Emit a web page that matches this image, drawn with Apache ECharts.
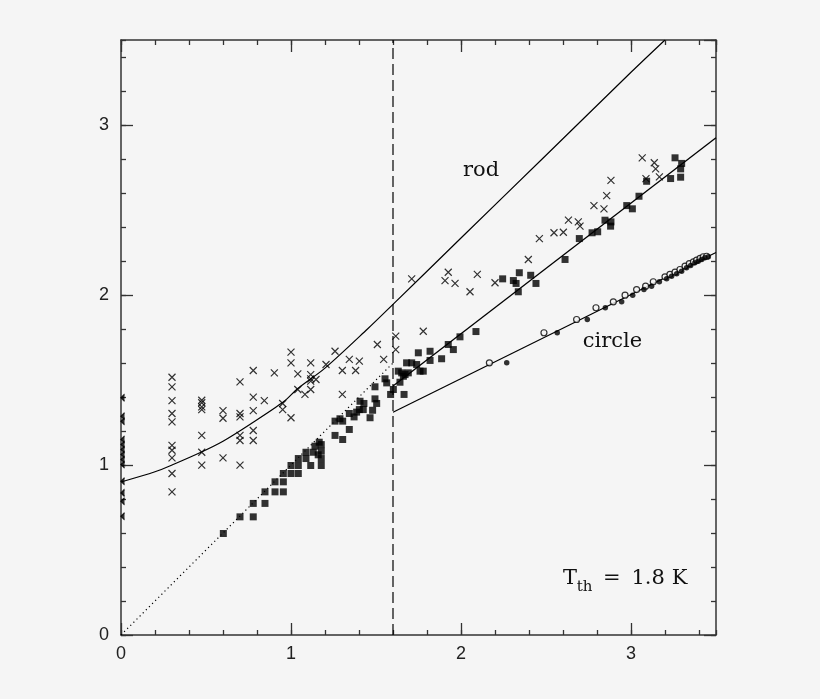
<!DOCTYPE html>
<html><head><meta charset="utf-8">
<script src="https://cdn.jsdelivr.net/npm/echarts@6/dist/echarts.min.js"></script>
<style>html,body{margin:0;padding:0;background:#f5f5f5}#c{width:820px;height:699px}</style>
</head><body><div id="c"></div>
<script>
// ---------- data ----------
const xTickLabels = ['0', '1', '2', '3'];
const yTickLabels = ['0', '1', '2', '3'];

// crosses sitting on the left frame (x = 0), half clipped in the original
const crossEdgeY = [1.395, 1.287, 1.258, 1.15, 1.12, 1.091, 1.062, 1.032, 1.003, 0.905, 0.836, 0.787, 0.699];

// crosses (x)
const crosses = [
  [0.3,1.516],[0.3,1.46],[0.3,1.379],[0.3,1.303],[0.3,1.254],[0.3,1.115],[0.3,1.087],[0.3,1.042],[0.3,0.95],[0.3,0.842],
  [0.475,1.381],[0.475,1.366],[0.475,1.342],[0.475,1.326],[0.475,1.174],[0.475,1.075],[0.475,0.999],
  [0.6,1.32],[0.6,1.275],[0.6,1.042],
  [0.7,1.489],[0.7,1.303],[0.7,1.283],[0.7,1.174],[0.7,1.144],[0.7,0.999],
  [0.778,1.556],[0.778,1.399],[0.778,1.32],[0.778,1.203],[0.778,1.144],
  [0.843,1.379],[0.902,1.542],[0.951,1.362],[0.951,1.326],
  [1.0,1.664],[1.0,1.601],[1.0,1.278],
  [1.04,1.536],[1.04,1.444],[1.082,1.415],
  [1.116,1.601],[1.116,1.532],[1.116,1.507],[1.116,1.493],[1.116,1.444],
  [1.147,1.503],[1.206,1.591],[1.259,1.669],[1.302,1.556],[1.302,1.415],
  [1.343,1.621],[1.38,1.556],[1.402,1.611],[1.508,1.709],[1.545,1.621],
  [1.616,1.758],[1.616,1.679],
  [1.71,2.095],[1.778,1.787],[1.906,2.085],[1.925,2.134],[1.965,2.068],
  [2.053,2.019],[2.096,2.121],[2.2,2.072],[2.396,2.209],[2.461,2.332],
  [2.547,2.366],[2.602,2.369],[2.632,2.44],[2.69,2.43],[2.7,2.405],
  [2.782,2.526],[2.841,2.507],[2.857,2.585],[2.882,2.674],
  [3.066,2.807],[3.088,2.685],[3.137,2.778],[3.145,2.742],[3.167,2.695]
];

// filled squares
const squares = [
  [0.602,0.597],[0.7,0.695],[0.778,0.695],[0.778,0.774],[0.847,0.774],[0.847,0.842],
  [0.906,0.842],[0.955,0.842],[0.906,0.901],[0.955,0.901],[0.955,0.95],[1.0,0.95],[1.043,0.95],
  [1.0,0.997],[1.043,0.997],[1.043,1.038],[1.088,1.038],[1.088,1.075],[1.131,1.075],
  [1.116,0.997],[1.178,0.997],[1.178,1.038],[1.16,1.06],[1.141,1.111],[1.166,1.134],[1.178,1.081],[1.178,1.12],
  [1.259,1.258],[1.288,1.272],[1.304,1.258],[1.259,1.174],[1.304,1.15],[1.343,1.209],
  [1.343,1.303],[1.371,1.283],[1.386,1.311],[1.406,1.375],[1.429,1.362],[1.402,1.326],
  [1.425,1.326],[1.48,1.322],[1.465,1.278],[1.494,1.46],[1.494,1.389],[1.504,1.362],
  [1.553,1.507],[1.563,1.483],[1.586,1.415],[1.631,1.552],[1.661,1.522],[1.641,1.487],
  [1.602,1.444],[1.665,1.415],[1.68,1.601],[1.69,1.542],[1.651,1.542],[1.671,1.532],
  [1.749,1.66],[1.818,1.669],[1.818,1.615],[1.71,1.601],[1.739,1.591],[1.759,1.552],[1.778,1.552],
  [1.886,1.625],[1.925,1.709],[1.955,1.679],[1.994,1.754],[2.088,1.785],
  [2.245,2.095],[2.308,2.085],[2.324,2.068],[2.343,2.131],[2.337,2.019],[2.41,2.116],[2.441,2.068],
  [2.612,2.209],[2.696,2.332],[2.771,2.366],[2.804,2.372],[2.847,2.44],[2.882,2.43],[2.88,2.405],
  [2.975,2.526],[3.008,2.507],[3.047,2.581],[3.092,2.669],[3.233,2.685],[3.259,2.807],
  [3.292,2.742],[3.298,2.774],[3.292,2.693]
];

// open circles
const openCircles = [
  [2.167,1.601],[2.488,1.778],[2.68,1.856],[2.794,1.925],[2.896,1.96],[2.965,1.999],
  [3.033,2.032],[3.086,2.052],[3.131,2.078],[3.2,2.107],[3.229,2.121],[3.259,2.134],
  [3.288,2.15],[3.318,2.17],[3.343,2.184],[3.367,2.195],[3.386,2.205],[3.406,2.215],
  [3.425,2.225],[3.445,2.228]
];

// filled circles
const filledCircles = [
  [2.269,1.601],[2.566,1.778],[2.743,1.856],[2.849,1.925],[2.945,1.96],[3.01,1.999],
  [3.076,2.032],[3.121,2.052],[3.167,2.078],[3.21,2.095],[3.239,2.111],[3.269,2.125],
  [3.298,2.14],[3.327,2.16],[3.351,2.174],[3.376,2.189],[3.396,2.199],[3.416,2.209],
  [3.435,2.219],[3.455,2.225]
];

// curves / lines
const rodCurve = [[0,0.9],[0.2,0.96],[0.3,1.0],[0.47,1.075],[0.6,1.14],[0.76,1.24],[0.96,1.375],
  [1.04,1.45],[1.2,1.57],[1.45,1.8],[1.6,1.945],[2.0,2.335],[2.5,2.822],[3.0,3.31],[3.2,3.5]];
const dottedLine = [[0,0],[1.6,1.6]];
const squareFit = [[1.6,1.465],[3.5,2.925]];
const circleFit = [[1.6,1.31],[3.5,2.25]];
const thresholdLine = [[1.6,0],[1.6,3.5]];

// ---------- chart ----------
const BG = '#f5f5f5';
const AX = '#333';
const chart = echarts.init(document.getElementById('c'), null, {renderer: 'canvas'});

function lbl(labels) {
  return v => {
    const i = Math.round(v);
    return Math.abs(v - i) < 1e-6 && labels[i] !== undefined ? labels[i] : '';
  };
}
function axis(pos, interval, len, showLabel, showLine, labels) {
  const isX = pos === 'bottom' || pos === 'top';
  return {
    type: 'value', position: pos, min: 0, max: 3.5, interval: interval,
    axisLine: {show: showLine, onZero: false, lineStyle: {color: AX, width: 1.5}},
    axisTick: {show: true, inside: true, length: len, lineStyle: {color: AX, width: 1.3}},
    axisLabel: {show: showLabel, formatter: labels ? lbl(labels) : '', color: '#222',
      fontFamily: 'Liberation Sans', fontSize: 18, margin: isX ? 10 : 12,
      showMinLabel: true, showMaxLabel: false},
    splitLine: {show: false}, minorTick: {show: false}
  };
}

const crossPath = 'path://M0,0L10,10M10,0L0,10';
const halfCrossPath = 'path://M10,0L5,5L10,10';
const lineBase = {type: 'line', showSymbol: false, symbol: 'none', silent: true, animation: false,
  xAxisIndex: 0, yAxisIndex: 0, z: 2};

chart.setOption({
  backgroundColor: BG,
  animation: false,
  grid: {left: 121, top: 40, width: 595, height: 595, containLabel: false},
  xAxis: [
    axis('bottom', 1, 12, true, true, xTickLabels),
    axis('bottom', 0.2, 5, false, false),
    axis('top', 1, 12, false, true),
    axis('top', 0.2, 5, false, false)
  ],
  yAxis: [
    axis('left', 1, 12, true, true, yTickLabels),
    axis('left', 0.2, 5, false, false),
    axis('right', 1, 12, false, true),
    axis('right', 0.2, 5, false, false)
  ],
  series: [
    Object.assign({}, lineBase, {data: rodCurve, smooth: 0.3, lineStyle: {color: '#000', width: 1.2}}),
    Object.assign({}, lineBase, {data: dottedLine, lineStyle: {color: '#000', width: 1.2, type: [1.2, 3.2]}}),
    Object.assign({}, lineBase, {data: squareFit, lineStyle: {color: '#000', width: 1.3}}),
    Object.assign({}, lineBase, {data: circleFit, lineStyle: {color: '#000', width: 1.2}}),
    Object.assign({}, lineBase, {data: thresholdLine, lineStyle: {color: '#000', width: 1.2, type: [11, 5]}}),
    {type: 'scatter', data: crosses, symbol: crossPath, symbolSize: 7, silent: true, z: 3,
      itemStyle: {color: '#000', borderColor: '#000', borderWidth: 1.2}},
    {type: 'scatter', data: crossEdgeY.map(y => [0, y]), symbol: halfCrossPath, symbolSize: [3.5, 7],
      symbolOffset: [1.75, 0], silent: true, z: 3,
      itemStyle: {color: '#000', borderColor: '#000', borderWidth: 1.2}},
    {type: 'scatter', data: squares, symbol: 'rect', symbolSize: 7, silent: true, z: 3,
      itemStyle: {color: '#000'}},
    {type: 'scatter', data: openCircles, symbol: 'circle', symbolSize: 6, silent: true, z: 3,
      itemStyle: {color: BG, borderColor: '#000', borderWidth: 1.2}},
    {type: 'scatter', data: filledCircles, symbol: 'circle', symbolSize: 5.5, silent: true, z: 3,
      itemStyle: {color: '#000'}}
  ]
});

// annotations placed by data coordinates
function px(p) { return chart.convertToPixel({xAxisIndex: 0, yAxisIndex: 0}, p); }
const serif = 'DejaVu Serif';
function txt(text, at, size, align) {
  const p = px(at);
  return {type: 'text', x: p[0], y: p[1], z: 10, silent: true,
    style: {text: text, fill: '#111', fontFamily: serif, fontSize: size,
      align: align || 'left', verticalAlign: 'middle'}};
}
chart.setOption({
  graphic: [
    txt('rod', [2.118, 2.732], 21, 'center'),
    txt('circle', [2.891, 1.726], 21, 'center'),
    txt('T', [2.600, 0.332], 21),
    txt('th', [2.681, 0.281], 15),
    txt('=', [2.835, 0.332], 21),
    txt('1.8', [3.003, 0.332], 21),
    txt('K', [3.240, 0.332], 21)
  ]
});
</script></body></html>
